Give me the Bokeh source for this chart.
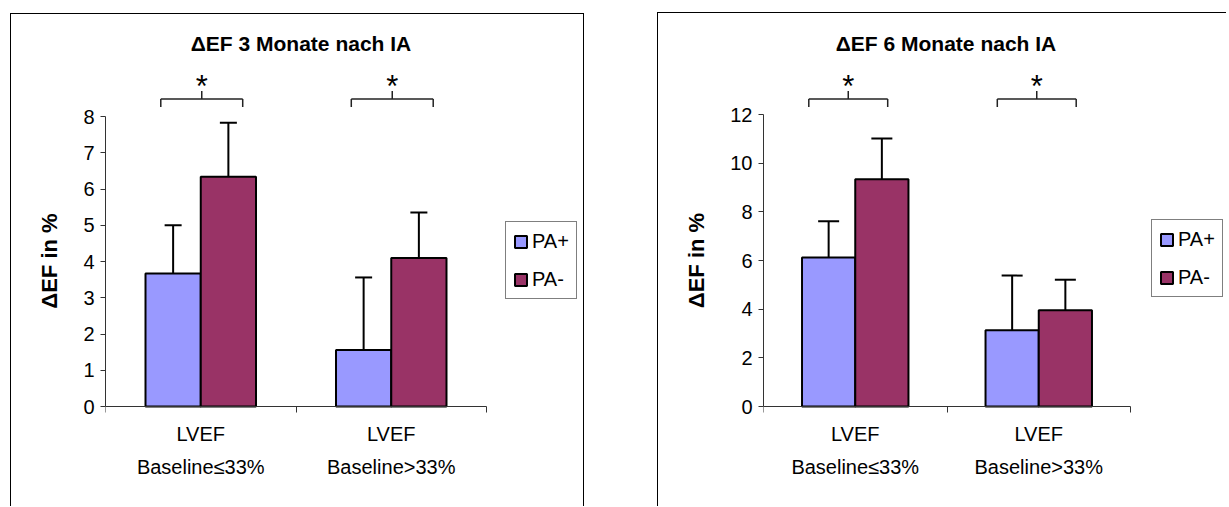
from bokeh.plotting import figure
from bokeh.layouts import row
from bokeh.models import (ColumnDataSource, Range1d, FixedTicker, Legend, LegendItem,
                          Whisker, TeeHead, Label)
from bokeh.embed import file_html
from bokeh.resources import INLINE

# --- data -------------------------------------------------------------------
categories = ["LVEF\nBaseline≤33%", "LVEF\nBaseline>33%"]
series_names = ["PA+", "PA-"]
series_colors = ["#9999FF", "#993366"]

title_3m = "ΔEF 3 Monate nach IA"
pa_plus_3m = [3.67, 1.56]
pa_minus_3m = [6.34, 4.10]
pa_plus_3m_sd = [1.33, 2.00]
pa_minus_3m_sd = [1.49, 1.25]
y_ticks_3m = [0, 1, 2, 3, 4, 5, 6, 7, 8]

title_6m = "ΔEF 6 Monate nach IA"
pa_plus_6m = [6.12, 3.13]
pa_minus_6m = [9.34, 3.96]
pa_plus_6m_sd = [1.49, 2.25]
pa_minus_6m_sd = [1.67, 1.25]
y_ticks_6m = [0, 2, 4, 6, 8, 10, 12]

significance_marks = ["*", "*"]
y_axis_label = "ΔEF in %"

# --- styling ------------------------------------------------------------------
FONT = "Liberation Sans"
AXIS_COLOR = "#333333"
INK = "#000000"
BAR_WIDTH = 0.29          # per series, in category units
BRACKET_HALF = 0.215      # half span of the significance bracket, category units
BRACKET_LEG = 8           # px


def make_panel(title, means, sds, y_ticks, *, width, height, frame_left, axis_top,
               axis_bottom, axis_px, title_dx, title_y, bracket_y, star_y, bracket_dx,
               legend_at, cap_px):
    n = len(categories)
    y_max = y_ticks[-1]
    frame_w = width - frame_left
    x_px = axis_px / n                                  # pixels per category
    y_px = (height - axis_bottom - axis_top) / y_max    # pixels per y unit

    # the plotting area covers the whole canvas height, so the title, the
    # significance brackets and the category names all sit inside it; both
    # axes are clipped to their data extent with bounds
    p = figure(width=width, height=height,
               x_range=Range1d(0, frame_w / x_px),
               y_range=Range1d(-axis_bottom / y_px, y_max + axis_top / y_px),
               min_border_left=frame_left, min_border_right=0,
               min_border_top=0, min_border_bottom=0,
               output_backend="svg", toolbar_location=None,
               background_fill_color="white", border_fill_color="white")
    p.outline_line_color = None
    p.grid.visible = False

    centers = [i + 0.5 for i in range(n)]

    # bars with upper error whiskers
    items = []
    for k, name in enumerate(series_names):
        xs = [c + (k - 0.5) * BAR_WIDTH for c in centers]
        upper = [m + s for m, s in zip(means[k], sds[k])]
        src = ColumnDataSource(dict(x=xs, mean=means[k], upper=upper))
        r = p.vbar(x="x", top="mean", bottom=0, width=BAR_WIDTH, source=src,
                   fill_color=series_colors[k], line_color=INK, line_width=2)
        p.add_layout(Whisker(source=src, base="x", lower="mean", upper="upper",
                             dimension="height", level="overlay",
                             line_color=INK, line_width=2, lower_head=None,
                             upper_head=TeeHead(size=cap_px, line_color=INK, line_width=2)))
        items.append(LegendItem(label=name, renderers=[r]))

    # x axis at y = 0: category boundaries as ticks, names centred between them
    xa = p.xaxis[0]
    xa.fixed_location = 0
    xa.bounds = (0, n)
    xa.ticker = FixedTicker(ticks=centers, minor_ticks=list(range(n + 1)))
    xa.major_label_overrides = dict(zip(centers, categories))
    xa.major_tick_line_color = None
    xa.major_tick_in = 0
    xa.major_tick_out = 6
    xa.minor_tick_line_color = AXIS_COLOR
    xa.minor_tick_in = 0
    xa.minor_tick_out = 6
    xa.axis_line_color = AXIS_COLOR
    xa.major_label_standoff = 10
    xa.major_label_text_font = FONT
    xa.major_label_text_font_size = "20px"
    xa.major_label_text_color = INK
    xa.major_label_text_line_height = 1.5

    # y axis
    ya = p.yaxis[0]
    ya.bounds = (0, y_max)
    ya.ticker = FixedTicker(ticks=y_ticks)
    ya.minor_tick_line_color = None
    ya.major_tick_in = 0
    ya.major_tick_out = 5
    ya.major_tick_line_color = AXIS_COLOR
    ya.axis_line_color = AXIS_COLOR
    ya.major_label_standoff = 6
    ya.major_label_text_font = FONT
    ya.major_label_text_font_size = "20px"
    ya.major_label_text_color = INK
    ya.axis_label = y_axis_label
    ya.axis_label_text_font = FONT
    ya.axis_label_text_font_style = "bold"
    ya.axis_label_text_font_size = "22px"
    ya.axis_label_text_color = INK
    ya.axis_label_standoff = 18

    def canvas_to_y(py):
        return y_max + (axis_top - py) / y_px

    # title
    p.add_layout(Label(x=n / 2, y=canvas_to_y(title_y), x_offset=title_dx, text=title,
                       text_align="center", text_baseline="middle", text_font=FONT,
                       text_font_style="bold", text_font_size="21px", text_color=INK))

    # significance brackets and stars
    yb = canvas_to_y(bracket_y)
    ys = canvas_to_y(star_y)
    leg = BRACKET_LEG / y_px
    segs = []
    for c, dx, mark in zip(centers, bracket_dx, significance_marks):
        cx = c + dx / x_px
        segs += [(cx - BRACKET_HALF, yb, cx + BRACKET_HALF, yb),
                 (cx - BRACKET_HALF, yb, cx - BRACKET_HALF, yb - leg),
                 (cx + BRACKET_HALF, yb, cx + BRACKET_HALF, yb - leg),
                 (cx, yb, cx, yb + leg)]
        p.add_layout(Label(x=cx, y=ys, text=mark, text_align="center",
                           text_baseline="middle", text_font=FONT,
                           text_font_size="31px", text_color=INK))
    x0, y0, x1, y1 = zip(*segs)
    p.segment(x0=list(x0), y0=list(y0), x1=list(x1), y1=list(y1),
              line_color="#222222", line_width=1.5)

    legend = Legend(items=items, location=legend_at, padding=7, spacing=14,
                    label_height=24, glyph_width=15, glyph_height=15, label_standoff=4,
                    border_line_color=INK, border_line_width=1,
                    background_fill_color="white", label_text_font=FONT,
                    label_text_font_size="20px", label_text_color=INK, margin=0)
    p.add_layout(legend)
    return p


p1 = make_panel(title_3m, [pa_plus_3m, pa_minus_3m], [pa_plus_3m_sd, pa_minus_3m_sd],
                y_ticks_3m, width=574, height=493, frame_left=94, axis_top=102,
                axis_bottom=101, axis_px=381, title_dx=5, title_y=29, bracket_y=84.5,
                star_y=72, bracket_dx=[1, 1], legend_at=(400, 208), cap_px=17)
p1.margin = (13, 0, 0, 10)
p1.styles = {"border-left": "1px solid #000", "border-top": "1px solid #000",
             "border-right": "1px solid #000"}

p2 = make_panel(title_6m, [pa_plus_6m, pa_minus_6m], [pa_plus_6m_sd, pa_minus_6m_sd],
                y_ticks_6m, width=569, height=494, frame_left=105, axis_top=101,
                axis_bottom=101, axis_px=367, title_dx=-1, title_y=30, bracket_y=85.5,
                star_y=73, bracket_dx=[-7, -2], legend_at=(388, 210), cap_px=21)
p2.margin = (12, 0, 0, 73)
p2.styles = {"border-left": "1px solid #000", "border-top": "1px solid #000"}

layout = row(p1, p2)
with open("out.html", "w") as f:
    f.write(file_html(layout, INLINE))
